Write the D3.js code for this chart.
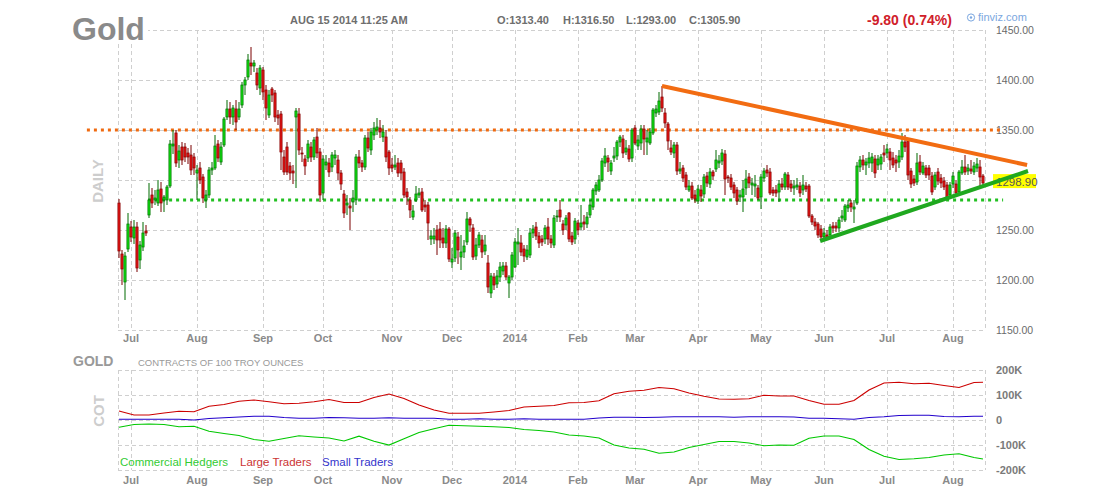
<!DOCTYPE html>
<html><head><meta charset="utf-8">
<script src="https://cdn.jsdelivr.net/npm/d3@7/dist/d3.min.js"></script>
<style>body{margin:0;background:#fff}svg{display:block}text{font-family:"Liberation Sans",Arial,sans-serif}</style>
</head><body><svg id="c" width="1100" height="500"></svg>
<script>
// ---------- DATA ----------
const firstDay = "2013-06-25", lastDay = "2014-08-15";
const holidays = ["2013-07-04","2013-09-02","2013-11-28","2013-12-25","2014-01-01","2014-01-20","2014-02-17","2014-04-18","2014-05-26","2014-07-04"];

const opens = [
1277,1226,1198,1231,1253,1242,1253,1220,1233,1249, 1265,1285,1280,1277,1291,1280,1280,1294,1334,1347,
1320,1333,1333,1327,1325,1323,1307,1312,1303,1280, 1285,1310,1312,1336,1318,1335,1363,1371,1363,1371,
1363,1375,1395,1403,1417,1414,1407,1392,1410,1390, 1365,1391,1387,1365,1366,1323,1333,1314,1309,1363,
1366,1327,1321,1322,1333,1323,1343,1328,1287,1315, 1317,1313,1322,1320,1307,1286,1275,1274,1278,1280,
1323,1317,1313,1342,1330,1345,1350,1352,1343,1343, 1328,1315,1313,1317,1317,1308,1288,
1280,1263,1280,1285,1288,1275,1275,1241,1241,1250, 1251,1242,1237,1251,1218,1222,1243,1223,1228,1238,
1261,1252,1224,1235,1240,1229,1217,1187,1203,1196, 1203,1209,1214,1197,1203,1213,1236,1237,1231,1223,
1225,1247,1253,1244,1241,1241,1253,
1241,1235,1263,1270,1256,1255,1267,1244,1241,1257, 1253,1258,1256,1265,1273,1289,1290,1300,1317,1322,
1309,1322,1324,1338,1341,1328,1331,1322,1352,1334, 1337,1351,1338,1337,1347,1367,1368,1383,1367,1356,
1332,1327,1335,1309,1312,1305,1290,1294,1285,1279,
1290,1286,1304,1296,1308,1311,1317,1319,1326,1303, 1302,1295,1290,1283,1283,1292,1303,1295,1294,1292,
1283,1302,1310,1308,1290,1290,1288,1296,1293,1305, 1296,1292,1293,1294,1290,1294,1294,1264,1258,1256,
1251,1243,1245,1245,1254,1254,1252,1262,1260,1272,
1277,1271,1277,1313,1320,1315,1317,1317,1321,1315, 1316,1327,1327,1328,1322,1320,1318,1323,1338,1339,
1309,1301,1298,1318,1307,1312,1312,1304,1293,1308, 1302,1299,1295,1285,1296,1296,1288,1307,1313,1309,
1311,1308,1312,1313,1304];
const highs = [
1281,1230,1228,1267,1259,1260,1258,1239,1258,1255, 1297,1292,1290,1300,1298,1285,1295,1340,1350,1350,
1335,1338,1337,1332,1335,1327,1315,1318,1306,1290, 1313,1318,1345,1340,1338,1363,1380,1378,1375,1380,
1378,1398,1403,1426,1433,1420,1412,1415,1413,1395, 1390,1393,1390,1370,1369,1330,1338,1318,1315,1372,
1372,1333,1325,1340,1338,1343,1352,1332,1325,1325, 1322,1328,1330,1325,1310,1290,1285,1282,1290,1326,
1330,1320,1345,1348,1352,1358,1362,1360,1355,1350, 1330,1322,1325,1322,1320,1312,1292,
1283,1275,1294,1292,1292,1280,1278,1250,1252,1255, 1258,1252,1255,1253,1232,1250,1248,1245,1240,1268,
1263,1256,1242,1248,1245,1245,1225,1207,1207,1210, 1218,1218,1218,1205,1228,1242,1252,1245,1235,1235,
1252,1255,1258,1248,1245,1255,1262,
1245,1265,1270,1280,1260,1265,1268,1248,1262,1260, 1275,1265,1268,1280,1292,1298,1305,1322,1332,1325,
1320,1333,1340,1345,1345,1340,1335,1352,1355,1345, 1355,1355,1350,1352,1372,1375,1388,1394,1372,1358,
1340,1338,1338,1318,1315,1308,1300,1298,1290,1295,
1295,1306,1308,1312,1310,1330,1325,1331,1330,1305, 1306,1298,1293,1290,1300,1310,1307,1302,1305,1295,
1306,1312,1315,1312,1293,1295,1300,1302,1308,1308, 1300,1300,1302,1298,1305,1298,1296,1266,1262,1258,
1255,1252,1250,1256,1258,1258,1263,1270,1276,1280,
1280,1280,1318,1324,1325,1322,1328,1327,1325,1325, 1326,1335,1336,1332,1328,1325,1330,1347,1345,1342,
1312,1305,1327,1325,1318,1315,1315,1308,1308,1312, 1306,1303,1298,1298,1308,1300,1310,1320,1325,1316,
1320,1318,1322,1320,1306];
const lows = [
1222,1195,1180,1228,1238,1236,1208,1211,1229,1244, 1262,1272,1275,1274,1268,1268,1275,1292,1326,1313,
1312,1315,1318,1316,1305,1305,1280,1296,1277,1272, 1282,1305,1310,1318,1315,1333,1360,1356,1355,1350,
1360,1372,1385,1400,1405,1408,1390,1385,1380,1360, 1362,1378,1358,1355,1310,1305,1305,1300,1296,1292,
1325,1318,1305,1318,1318,1320,1322,1278,1280,1310, 1303,1308,1315,1300,1290,1262,1265,1250,1268,1275,
1312,1308,1310,1328,1325,1340,1345,1342,1338,1318, 1305,1308,1310,1303,1300,1282,1275,
1262,1260,1278,1282,1268,1268,1240,1235,1236,1225, 1232,1232,1232,1218,1212,1218,1216,1210,1222,1235,
1248,1220,1220,1232,1222,1225,1187,1182,1190,1192, 1198,1205,1200,1182,1200,1212,1215,1224,1218,1220,
1222,1242,1240,1232,1234,1236,1235,
1232,1232,1258,1258,1245,1250,1238,1235,1236,1245, 1250,1250,1252,1262,1270,1285,1288,1298,1313,1308,
1305,1318,1320,1333,1322,1325,1318,1318,1335,1330, 1330,1325,1325,1335,1345,1363,1365,1368,1352,1330,
1325,1322,1305,1306,1298,1290,1288,1280,1277,1276,
1278,1282,1293,1292,1300,1308,1312,1315,1285,1297, 1290,1282,1275,1278,1268,1285,1292,1285,1283,1280,
1271,1298,1303,1285,1284,1283,1278,1290,1290,1290, 1288,1285,1290,1283,1285,1288,1262,1255,1250,1242,
1240,1240,1240,1242,1247,1248,1248,1258,1258,1268,
1268,1257,1275,1308,1310,1305,1312,1308,1302,1310, 1310,1318,1322,1310,1312,1308,1312,1320,1328,1300,
1292,1294,1295,1305,1305,1302,1300,1285,1290,1295, 1292,1290,1280,1282,1292,1285,1285,1305,1305,1305,
1306,1305,1308,1294,1294];
const closes = [
1229,1211,1224,1256,1243,1253,1212,1235,1247,1247, 1280,1277,1282,1290,1277,1283,1293,1336,1336,1317,
1329,1320,1323,1323,1310,1312,1310,1300,1282,1285, 1310,1312,1334,1322,1333,1361,1371,1363,1372,1358,
1371,1395,1400,1420,1414,1417,1395,1412,1388,1372, 1385,1385,1363,1362,1328,1308,1308,1307,1307,1369,
1330,1326,1314,1336,1323,1340,1327,1285,1321,1318, 1308,1325,1325,1307,1296,1267,1277,1272,1282,1323,
1317,1313,1342,1332,1348,1352,1353,1348,1348,1323, 1312,1312,1315,1307,1307,1285,1283,
1270,1269,1286,1287,1270,1273,1257,1244,1244,1240, 1240,1237,1251,1221,1221,1247,1230,1228,1234,1261,
1255,1223,1235,1245,1228,1235,1193,1204,1195,1204, 1213,1214,1203,1203,1225,1238,1238,1228,1224,1230,
1247,1251,1244,1237,1238,1252,1241,
1237,1262,1264,1263,1250,1262,1241,1238,1259,1250, 1257,1256,1263,1275,1290,1295,1300,1319,1324,1318,
1317,1324,1338,1343,1327,1332,1321,1350,1337,1340, 1351,1341,1342,1348,1370,1371,1379,1372,1357,1339,
1328,1335,1309,1311,1302,1293,1294,1282,1281,1291,
1284,1303,1297,1308,1304,1320,1319,1327,1301,1302, 1293,1287,1279,1285,1291,1301,1297,1297,1296,1282,
1303,1309,1307,1287,1287,1287,1296,1293,1306,1293, 1292,1294,1295,1287,1295,1291,1264,1258,1254,1245,
1243,1247,1243,1253,1252,1252,1260,1264,1274,1275,
1273,1273,1314,1320,1315,1318,1322,1323,1307,1321, 1323,1325,1331,1320,1315,1317,1324,1338,1333,1305,
1296,1297,1317,1308,1314,1305,1305,1288,1305,1299, 1297,1293,1283,1295,1304,1287,1308,1313,1308,1312,
1309,1314,1316,1303,1297];

// COT weekly positions (thousands of contracts), one value per week (every 5th session)
const largeTraders = [36,20,20,28,35,33,55,62,75,80, 73,65,67,73,82,70,70,90,104,86, 60,40,27,27,27,32,38,52,55,58,
  69,70,77,105,115,119,130,125,108,95, 84,83,85,99,96,96,78,63,63,78, 120,148,151,145,147,138,130,150,151];
const smallTraders = [3,3,3,3,3,0,6,9,12,15, 15,10,7,7,10,9,7,7,9,7, 7,7,3,3,5,3,3,5,3,3,
  3,3,8,11,11,10,11,13,13,13, 13,11,13,13,13,12,7,7,5,3, 10,13,18,19,19,14,13,15,15];
const commercialHedgers = [-29,-18,-16,-18,-27,-25,-45,-54,-62,-78, -85,-74,-63,-68,-72,-84,-65,-85,-100,-75,
  -50,-35,-21,-23,-25,-27,-30,-38,-42,-48, -60,-64,-72,-100,-112,-117,-133,-128,-110,-98,
  -86,-86,-92,-103,-100,-101,-73,-64,-64,-78, -118,-145,-158,-155,-150,-140,-135,-150,-156];

const priceTicks = [1150,1200,1250,1300,1350,1400,1450];
const cotTicks = [-200,-100,0,100,200];
const cotTickLabels = ["-200K","-100K","0","100K","200K"];
const lastPrice = 1298.90;
const levelResistance = 1350, levelSupport = 1280;
// trend lines in (session index, price)
const trendDown = [[181, 1394], [302.7, 1315]];
const trendUp = [[233.7, 1239], [303, 1309]];
const header = {title:"Gold", time:"AUG 15 2014 11:25 AM", o:"O:1313.40", h:"H:1316.50", l:"L:1293.00", c:"C:1305.90", chg:"-9.80 (0.74%)"};

// ---------- BUILD DATES ----------
const fmt = d3.timeFormat("%Y-%m-%d");
const dates = [];
for (let d = new Date(firstDay+"T12:00:00"); fmt(d) <= lastDay; d.setDate(d.getDate()+1)) {
  const wd = d.getDay();
  if (wd === 0 || wd === 6 || holidays.includes(fmt(d))) continue;
  dates.push(fmt(d));
}
const bars = dates.map((dt,i)=>({dt, o:opens[i], h:highs[i], l:lows[i], c:closes[i]}));

// ---------- SCALES ----------
const L = 118, R = 985;
const x = d3.scaleBand().domain(dates).range([L-0.5, L-0.5+3*dates.length]).padding(0);
const cx = dt => x(dt) + x.bandwidth()/2;
const xi = d3.scaleLinear().domain([0, dates.length]).range([L-0.5, L-0.5+3*dates.length]);
const xIdx = i => xi(i) + 1.5;
const y = d3.scaleLinear().domain([1150,1450]).range([330,30]);
const yc = d3.scaleLinear().domain([-200,200]).range([470,370]);

const monthStarts = dates.filter((d,i)=> i>0 && d.slice(5,7) !== dates[i-1].slice(5,7));
const monthName = d3.timeFormat("%b");
const monthLabel = d => d.slice(5,7)==="01" ? d.slice(0,4) : monthName(new Date(d+"T12:00:00"));

const svg = d3.select("#c");
const gridC = "#cfcfcf";

// ---------- GRIDS ----------
function grid(y0, y1, hTicks, yScale) {
  const g = svg.append("g").attr("stroke", gridC).attr("stroke-dasharray","4,3").attr("stroke-width",1).attr("shape-rendering","crispEdges");
  g.selectAll(".h").data(hTicks).join("line").attr("x1",L).attr("x2",R).attr("y1",d=>Math.round(yScale(d))+0.5).attr("y2",d=>Math.round(yScale(d))+0.5);
  const vx = [L, ...monthStarts.map(cx), R];
  g.selectAll(".v").data(vx).join("line").attr("x1",d=>d+0.5).attr("x2",d=>d+0.5).attr("y1",y0).attr("y2",y1);
}
grid(30, 330, priceTicks, y);
grid(370, 470, cotTicks, yc);

// ---------- HEADER ----------
svg.append("rect").attr("x",70).attr("y",12).attr("width",78).attr("height",30).attr("fill","#fff");
svg.append("text").attr("x",72).attr("y",40).attr("font-size",32).attr("font-weight","bold").attr("fill","#8a8a8a").text(header.title);
const hdr = (t,xx)=>svg.append("text").attr("x",xx).attr("y",24).attr("font-size",11).attr("font-weight","bold").attr("fill","#6e6e6e").text(t);
hdr(header.time,290); hdr(header.o,497); hdr(header.h,563); hdr(header.l,626); hdr(header.c,689);
svg.append("text").attr("x",867).attr("y",25).attr("font-size",14).attr("font-weight","bold").attr("fill","#d0202a").text(header.chg);
svg.append("circle").attr("cx",971).attr("cy",17.5).attr("r",3.6).attr("fill","none").attr("stroke","#7ba7e0").attr("stroke-width",1);
svg.append("circle").attr("cx",971).attr("cy",17.5).attr("r",1.2).attr("fill","#7ba7e0");
svg.append("text").attr("x",978).attr("y",21).attr("font-size",11).attr("fill","#7ba7e0").text("finviz.com");

// ---------- AXIS LABELS ----------
// the tick next to the last-price badge is hidden behind it, as in the reference
svg.append("g").selectAll("text").data(priceTicks.filter(d=>Math.abs(d-lastPrice)>10)).join("text")
  .attr("x",996).attr("y",d=>y(d)+4).attr("font-size",10.5).attr("fill","#6a6a6a").text(d3.format(".2f"));
svg.append("g").selectAll("text").data(cotTicks).join("text")
  .attr("x",996).attr("y",d=>yc(d)+4).attr("font-size",11).attr("font-weight","bold").attr("fill","#7a7a7a").text((d,i)=>cotTickLabels[i]);
[342, 484].forEach(yy=>{
  svg.append("g").selectAll("text").data(monthStarts).join("text")
    .attr("x",cx).attr("y",yy).attr("text-anchor","middle").attr("font-size",11).attr("font-weight","bold").attr("fill","#8a8a8a").text(monthLabel);
});
svg.append("text").attr("transform","translate(103,181) rotate(-90)").attr("text-anchor","middle").attr("font-size",15).attr("font-weight","bold").attr("fill","#cdcdcd").text("DAILY");
svg.append("text").attr("transform","translate(104,411) rotate(-90)").attr("text-anchor","middle").attr("font-size",15).attr("font-weight","bold").attr("fill","#cdcdcd").text("COT");
svg.append("text").attr("x",73).attr("y",366).attr("font-size",14).attr("font-weight","bold").attr("fill","#999").text("GOLD");
svg.append("text").attr("x",138).attr("y",366).attr("font-size",9.5).attr("fill","#999").text("CONTRACTS OF 100 TROY OUNCES");

// ---------- LEVELS ----------
svg.append("line").attr("x1",xIdx(-10.7)).attr("x2",xIdx(293.7)).attr("y1",y(levelResistance)).attr("y2",y(levelResistance))
  .attr("stroke","#f06a10").attr("stroke-width",3).attr("stroke-dasharray","3,4");
svg.append("line").attr("x1",xIdx(9.7)).attr("x2",xIdx(294.7)).attr("y1",y(levelSupport)).attr("y2",y(levelSupport))
  .attr("stroke","#22c022").attr("stroke-width",3).attr("stroke-dasharray","3,4");

// ---------- CANDLES ----------
const up = b => b.c >= b.o;
const cg = svg.append("g");
cg.selectAll("line").data(bars).join("line")
  .attr("x1",d=>cx(d.dt)).attr("x2",d=>cx(d.dt)).attr("y1",d=>y(d.h)).attr("y2",d=>y(d.l))
  .attr("stroke",d=>up(d)?"#006a00":"#7a0000").attr("stroke-width",1);
cg.selectAll("rect").data(bars).join("rect")
  .attr("x",d=>cx(d.dt)-1.1).attr("width",2.2)
  .attr("y",d=>y(Math.max(d.o,d.c))).attr("height",d=>Math.max(1,Math.abs(y(d.o)-y(d.c))))
  .attr("fill",d=>up(d)?"#10dc10":"#e41414").attr("stroke",d=>up(d)?"#007000":"#800000").attr("stroke-width",0.7);

// ---------- LAST PRICE LABEL ----------
svg.append("rect").attr("x",993).attr("y",y(lastPrice)-7).attr("width",43).attr("height",14).attr("fill","#ffff00");
svg.append("text").attr("x",996).attr("y",y(lastPrice)+4.5).attr("font-size",11.5).attr("fill","#555").text(d3.format(".2f")(lastPrice));

// ---------- TREND LINES ----------
const tl = d3.line().x(d=>xIdx(d[0])).y(d=>y(d[1]));
svg.append("path").attr("d",tl(trendDown)).attr("stroke","#f26c12").attr("stroke-width",4).attr("fill","none");
svg.append("path").attr("d",tl(trendUp)).attr("stroke","#1fa81f").attr("stroke-width",4).attr("fill","none");

// ---------- COT LINES ----------
const cotDate = k => dates[Math.min(5*k, dates.length-1)];
const cl = d3.line().x((d,k)=>cx(cotDate(k))).y(d=>yc(d));
[[largeTraders,"#cc0000"],[smallTraders,"#2200cc"],[commercialHedgers,"#00c800"]].forEach(([s,c])=>{
  svg.append("path").attr("d",cl(s)).attr("stroke",c).attr("stroke-width",1.2).attr("fill","none");
});
const leg = [["Commercial Hedgers","#33cc33",120],["Large Traders","#cc3333",240],["Small Traders","#3333cc",322]];
svg.append("g").selectAll("text").data(leg).join("text").attr("x",d=>d[2]).attr("y",466).attr("font-size",11.5).attr("fill",d=>d[1]).text(d=>d[0]);
</script></body></html>
